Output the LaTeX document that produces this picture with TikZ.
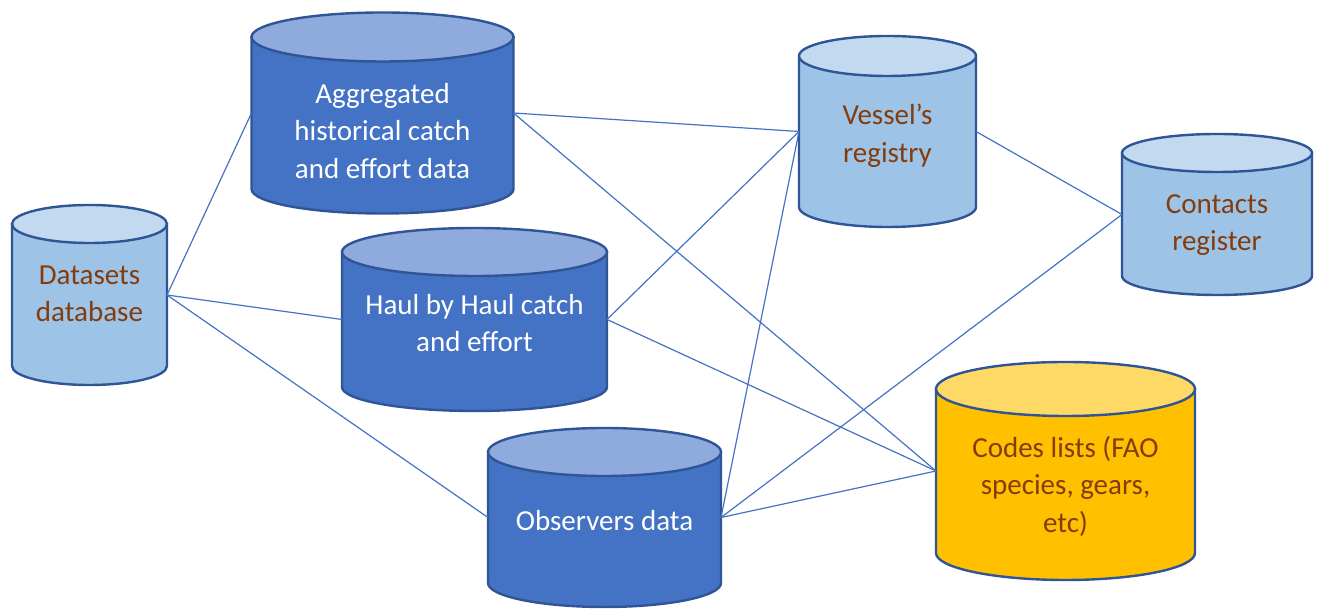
\documentclass[tikz,border=0pt]{standalone}
\usepackage{fontspec}
\setmainfont{Carlito}
\usepackage{xcolor}
\usepackage{tikz}
\usetikzlibrary{positioning}
\definecolor{cdark}{HTML}{4472C4}
\definecolor{cdarktop}{HTML}{8FAADC}
\definecolor{clight}{HTML}{9DC3E6}
\definecolor{clighttop}{HTML}{C2D9EF}
\definecolor{cgold}{HTML}{FFC000}
\definecolor{cgoldtop}{HTML}{FFD966}
\definecolor{cedge}{HTML}{2F5597}
\definecolor{cbrown}{HTML}{843C0C}
\tikzstyle{darkcyl} = [fill=cdark, draw=cedge, line width=2.4pt]
\tikzstyle{darkcap} = [fill=cdarktop, draw=cedge, line width=2.4pt]
\tikzstyle{lightcyl} = [fill=clight, draw=cedge, line width=2.4pt]
\tikzstyle{lightcap} = [fill=clighttop, draw=cedge, line width=2.4pt]
\tikzstyle{goldcyl} = [fill=cgold, draw=cedge, line width=2.4pt]
\tikzstyle{goldcap} = [fill=cgoldtop, draw=cedge, line width=2.4pt]
\tikzstyle{label} = [align=center, inner sep=0pt,
    font=\fontsize{29}{37.5}\selectfont]
\tikzstyle{darklabel} = [label, text=white]
\tikzstyle{lightlabel} = [label, text=cbrown]
\tikzstyle{line} = [draw, line width=1.2pt, cdark]
% name, cx, cy, rx, half height, ry, kind
\newcommand{\dbcyl}[7]{%
  \begin{scope}[shift={(#2,#3)}]
    \path [#7cyl] (-#4,#5) -- (-#4,-#5)
      arc[start angle=180, end angle=360, x radius=#4, y radius=#6]
      -- (#4,#5) -- cycle;
    \path [#7cap] (0,#5) ellipse [x radius=#4, y radius=#6];
    \coordinate (#1-w) at (-#4,0);
    \coordinate (#1-e) at (#4,0);
  \end{scope}}

\begin{document}
\begin{tikzpicture}[x=1pt, y=1pt]
    \useasboundingbox (0,0) rectangle (1319,609);
    % Place cylinders
    \dbcyl{data}{89.5}{314}{77.5}{71}{19}{light}
    \dbcyl{agg}{382.5}{496}{131}{76}{24.5}{dark}
    \dbcyl{haul}{474.5}{289.5}{132.5}{67.5}{24}{dark}
    \dbcyl{obs}{604.5}{91.5}{116.5}{65.5}{24}{dark}
    \dbcyl{vessel}{887.5}{477.5}{88.5}{75.5}{20}{light}
    \dbcyl{contacts}{1217}{394.5}{95}{61.5}{19}{light}
    \dbcyl{codes}{1065.5}{138}{129.5}{82}{27}{gold}

    % Place texts
    \node [lightlabel] (dataText) at (89.5,315) {Datasets\\database};
    \node [darklabel] (aggText) at (382.5,478) {Aggregated\\historical catch\\and effort data};
    \node [darklabel] (haulText) at (474.5,286) {Haul by Haul catch\\and effort};
    \node [darklabel] (obsText) at (604.5,88) {Observers data};
    \node [lightlabel] (vesselText) at (887.5,473) {Vessel’s\\registry};
    \node [lightlabel] (contactsText) at (1217,384) {Contacts\\register};
    \node [lightlabel] (codesText) at (1065.5,123) {Codes lists (FAO\\species, gears,\\etc)};

    % Links
    \path [line] (data-e) -- (agg-w);
    \path [line] (data-e) -- (haul-w);
    \path [line] (data-e) -- (obs-w);
    \path [line] (agg-e) -- (vessel-w);
    \path [line] (agg-e) -- (codes-w);
    \path [line] (haul-e) -- (vessel-w);
    \path [line] (haul-e) -- (codes-w);
    \path [line] (obs-e) -- (vessel-w);
    \path [line] (obs-e) -- (contacts-w);
    \path [line] (obs-e) -- (codes-w);
    \path [line] (vessel-e) -- (contacts-w);
\end{tikzpicture}
\end{document}
